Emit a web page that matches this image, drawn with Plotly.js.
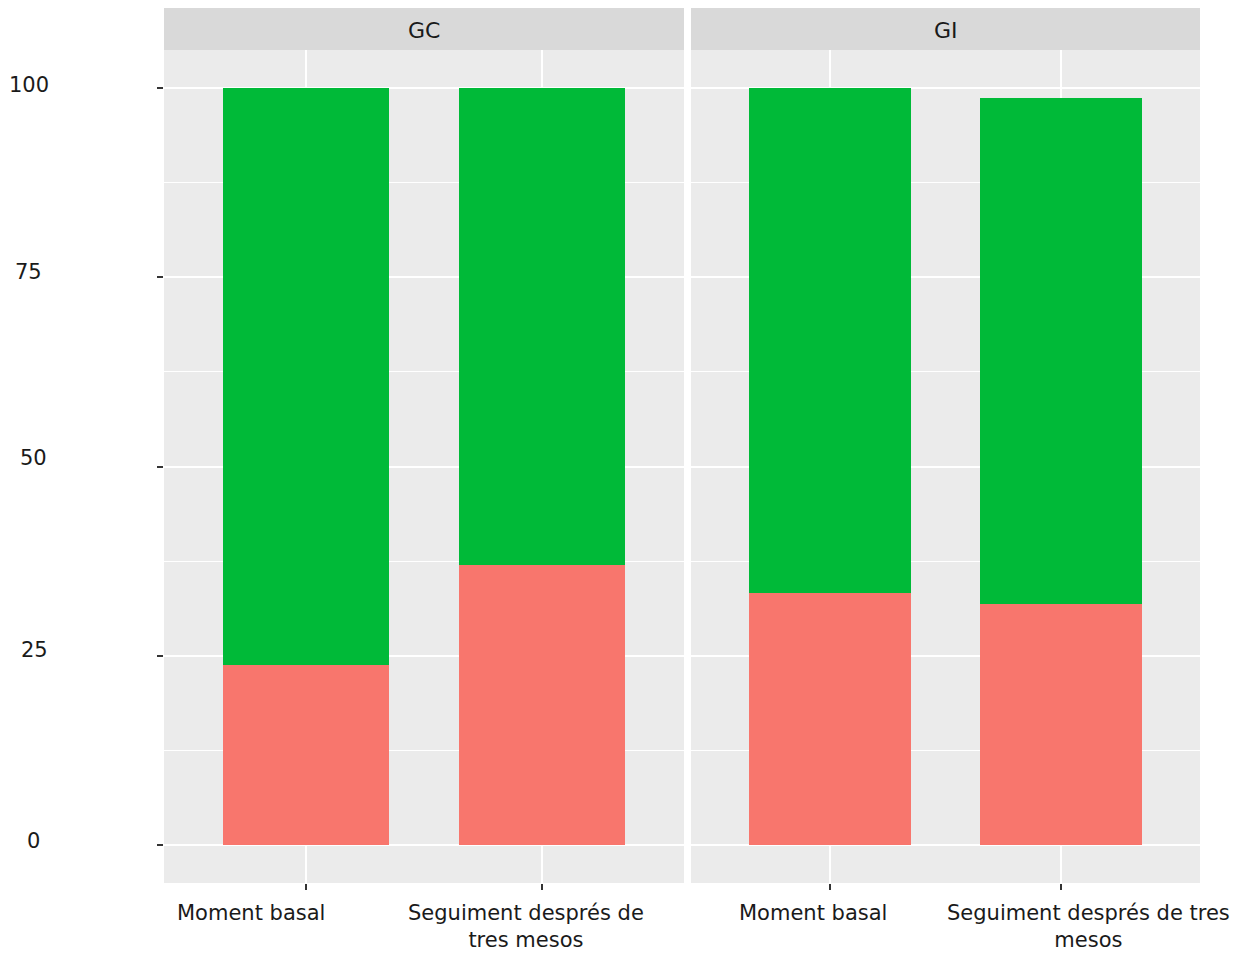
<!DOCTYPE html>
<html>
<head>
<meta charset="utf-8">
<script src="https://cdn.plot.ly/plotly-3.0.1.min.js"></script>
<style>html,body{margin:0;padding:0;background:#fff;} #chart{width:1239px;height:957px;}</style>
</head>
<body>
<div id="chart"></div>
<script>
// ---- data ----
const panels = ['GC', 'GI'];
const categories = ['Moment basal', 'Seguiment després de tres mesos'];
const labelsGC = ['Moment basal', 'Seguiment després de<br>tres mesos'];
const labelsGI = ['Moment basal', 'Seguiment després de tres<br>mesos'];
const redGC = [23.8, 37.0];
const greenGC = [76.2, 63.0];
const redGI = [33.3, 31.8];
const greenGI = [66.7, 66.9];
const yTicks = [0, 25, 50, 75, 100];
const yTickLabels = ['0', '25', '50', '75', '100'];

// ---- styling ----
const W = 1239, H = 957;
const RED = '#F8766D', GREEN = '#00BA38';
const FONT = 'DejaVu Sans, Verdana, sans-serif';
const xIdx = categories.map((c, i) => i);
const yLabelShiftY = [4, 6, 9, 5.5, 2.5];
const yLabelCenterX = [33, 34, 33.5, 28, 28.5];

function bar(xa, ya, vals, color, name) {
  return {type: 'bar', x: xIdx, y: vals, xaxis: xa, yaxis: ya, width: 0.7,
    marker: {color: color, line: {width: 0}}, name: name, showlegend: false,
    hoverinfo: 'y'};
}
const traces = [
  bar('x', 'y', redGC, RED, 'red'), bar('x', 'y', greenGC, GREEN, 'green'),
  bar('x2', 'y2', redGI, RED, 'red'), bar('x2', 'y2', greenGI, GREEN, 'green')
];

const yDom = [1 - 883 / H, 1 - 50 / H];
const xBase = {range: [-0.6, 1.6], tickvals: xIdx, showticklabels: false,
  ticks: 'outside', ticklen: 6, tickwidth: 2, tickcolor: '#333333',
  showgrid: true, gridcolor: '#FFFFFF', gridwidth: 2, zeroline: false,
  showline: false, fixedrange: true};
const yBase = {range: [-5, 105], domain: yDom, tickvals: yTicks,
  showgrid: true, gridcolor: '#FFFFFF', gridwidth: 2, zeroline: false,
  showline: false, fixedrange: true,
  minor: {dtick: 12.5, tick0: 12.5, showgrid: true, gridcolor: '#FFFFFF', gridwidth: 1, ticks: ''}};

const annotations = [];
const shapes = [];
const stripY0 = 1 - 50 / H, stripY1 = 1 - 8 / H;
['x', 'x2'].forEach((xa, p) => {
  shapes.push({type: 'rect', xref: xa + ' domain', yref: 'paper', x0: 0, x1: 1,
    y0: stripY0, y1: stripY1, fillcolor: '#D9D9D9', line: {width: 0}, layer: 'below'});
  annotations.push({xref: xa + ' domain', yref: 'paper', x: 0.5, y: (stripY0 + stripY1) / 2,
    yshift: -2, text: panels[p], showarrow: false, xanchor: 'center', yanchor: 'middle',
    font: {family: FONT, size: 22, color: '#1A1A1A'}});
});
const shiftsGC = [-55, -16.5], shiftsGI = [-16.5, 27.5];
labelsGC.forEach((t, i) => annotations.push({xref: 'x', yref: 'paper', x: xIdx[i], y: 1 - 899 / H,
  xshift: shiftsGC[i], text: t, showarrow: false, xanchor: 'center', yanchor: 'top', align: 'center',
  font: {family: FONT, size: 21, color: '#1A1A1A'}}));
labelsGI.forEach((t, i) => annotations.push({xref: 'x2', yref: 'paper', x: xIdx[i], y: 1 - 899 / H,
  xshift: shiftsGI[i], text: t, showarrow: false, xanchor: 'center', yanchor: 'top', align: 'center',
  font: {family: FONT, size: 21, color: '#1A1A1A'}}));
yTicks.forEach((v, i) => annotations.push({xref: 'paper', yref: 'y', x: yLabelCenterX[i] / W, y: v,
  yshift: yLabelShiftY[i], text: yTickLabels[i], showarrow: false, xanchor: 'center', yanchor: 'middle',
  font: {family: FONT, size: 21, color: '#1A1A1A'}}));

const layout = {
  width: W, height: H, margin: {l: 0, r: 0, t: 0, b: 0, pad: 0},
  paper_bgcolor: '#FFFFFF', plot_bgcolor: '#EBEBEB',
  barmode: 'stack', bargap: 0, showlegend: false,
  font: {family: FONT, size: 21, color: '#1A1A1A'},
  xaxis: Object.assign({}, xBase, {domain: [164 / W, 684 / W], anchor: 'y'}),
  xaxis2: Object.assign({}, xBase, {domain: [691 / W, 1200 / W], anchor: 'y2'}),
  yaxis: Object.assign({}, yBase, {anchor: 'x', showticklabels: false,
    ticks: 'outside', ticklen: 6, tickwidth: 2, tickcolor: '#333333'}),
  yaxis2: Object.assign({}, yBase, {anchor: 'x2', showticklabels: false, ticks: ''}),
  shapes: shapes, annotations: annotations
};
Plotly.newPlot('chart', traces, layout, {displayModeBar: false, staticPlot: true});
</script>
</body>
</html>
